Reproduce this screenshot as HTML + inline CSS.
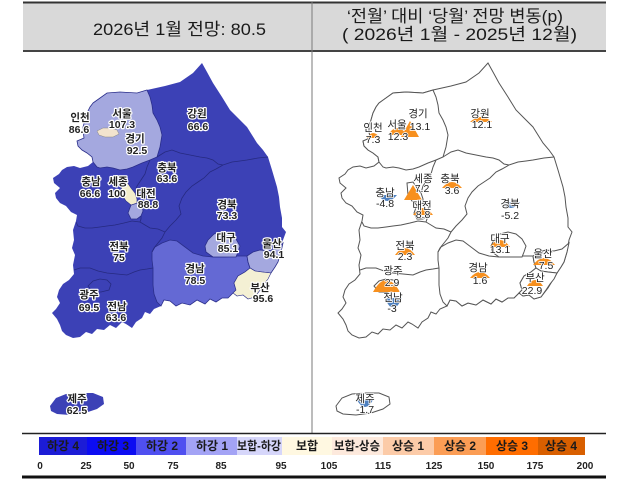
<!DOCTYPE html>
<html><head><meta charset="utf-8"><style>
html,body{margin:0;padding:0;background:#fff;}
svg{display:block;}
.h{font-family:"Liberation Sans","Noto Sans CJK KR",sans-serif;font-size:17px;fill:#1a1a1a;}
.lb{font-family:"Liberation Sans","Noto Sans CJK KR",sans-serif;font-size:10.5px;font-weight:bold;fill:#222;stroke:#fff;stroke-width:2.4px;paint-order:stroke;stroke-linejoin:round;text-anchor:middle;}
.rb{font-family:"Liberation Sans","Noto Sans CJK KR",sans-serif;font-size:10.5px;fill:#222;stroke:#fff;stroke-width:1.6px;paint-order:stroke;text-anchor:middle;}
.lg{font-family:"Liberation Sans","Noto Sans CJK KR",sans-serif;font-size:12px;font-weight:bold;fill:#1a1a1a;text-anchor:middle;}
.tk{font-family:"Liberation Sans",sans-serif;font-size:10px;font-weight:bold;fill:#222;text-anchor:middle;}
</style></head><body>
<svg width="620" height="481" viewBox="0 0 620 481" xmlns="http://www.w3.org/2000/svg">
<defs>
<path id="main" d="M93,103 L107,93 L120,92 L137,93 L147,90 L165,86 L180,82 L193,73 L202,63 L207,72 L213,83 L222,97 L230,110 L240,120 L247,127 L252,135 L257,143 L263,150 L268,157 L272,170 L277,187 L279,197 L280,207 L282,218 L282,227 L286,232 L283,240 L281,252 L278,262 L275,267 L271,273 L265,283 L262,288 L255,297 L248,299 L243,295 L237,296 L233,293 L228,298 L222,298 L216,302 L210,299 L205,304 L197,300 L190,305 L182,303 L176,306 L170,301 L164,300 L161,306 L154,309 L150,314 L145,312 L142,318 L136,322 L132,328 L126,324 L122,322 L116,328 L110,325 L104,330 L97,329 L92,334 L86,332 L80,337 L73,338 L66,335 L62,331 L60,325 L57,319 L52,313 L56,309 L60,303 L57,297 L59,290 L63,284 L69,280 L74,274 L73,265 L75,255 L72,248 L74,240 L73,230 L76,221 L77,215 L71,212 L66,206 L60,203 L56,198 L55,193 L60,188 L54,183 L53,178 L59,174 L62,170 L67,167 L74,166 L80,168 L88,166 L93,162 L92,157 L87,153 L82,150 L78,146 L77,141 L84,138 L83,131 L83,127 L85,120 L87,113 L90,107 Z"/>
<path id="gg" d="M93,103 L107,93 L120,92 L137,93 L147,90 L150,97 L152,105 L153,113 L157,120 L160,127 L162,135 L161,141 L160,147 L157,157 L150,160 L142,163 L133,167 L127,169 L120,170 L113,168 L107,167 L100,168 L97,167 L93,162 L92,157 L87,153 L82,150 L78,146 L77,141 L84,138 L83,131 L83,127 L85,120 L87,113 L90,107 Z"/>
<path id="gn" d="M152,252 L155,247 L162,243 L170,240 L177,241 L185,247 L193,253 L203,256 L213,257 L225,257 L237,256 L247,256 L248,262 L250,268 L245,272 L238,276 L234,283 L236,290 L233,293 L228,298 L222,298 L216,302 L210,299 L205,304 L197,300 L190,305 L182,303 L176,306 L170,301 L164,300 L161,306 L157,302 L154,294 L153,285 L153,275 L153,268 L152,260 Z"/>
<path id="us" d="M247,256 L253,252 L260,250 L268,251 L276,249 L283,243 L281,252 L278,262 L275,267 L271,273 L262,272 L255,271 L250,268 L248,262 Z"/>
<path id="bs" d="M250,268 L255,271 L262,272 L271,273 L268,279 L264,284 L260,290 L255,297 L248,299 L243,295 L237,296 L233,293 L236,290 L234,283 L238,276 L245,272 Z"/>
<path id="dg" d="M208,240 L214,234 L222,232 L230,234 L236,239 L240,246 L238,252 L236,257 L225,257 L213,257 L206,252 L205,246 Z"/>
<path id="sj" d="M121,183 L127,182 L131,188 L135,193 L137,199 L137,203 L131,205 L126,201 L122,195 Z"/>
<path id="dj" d="M131,205 L137,203 L142,205 L143,211 L141,216 L137,219 L131,219 L128,213 Z"/>
<path id="se" d="M97,131 L103,128 L110,128 L117,130 L119,134 L113,137 L105,137 L99,135 Z"/>
<path id="jj" d="M50,406 L56,398 L66,394 L80,393 L93,393 L103,397 L104,404 L97,409 L85,413 L70,415 L57,414 L51,411 Z"/>
<path id="lines" d="M157,157 L165,152 L172,150 L180,153 L190,155 L200,157 L207,158 L213,160 L218,164 L223,165 L232,162 L240,161 L247,160 L258,158 L268,157
 M223,165 L216,169 L210,172 L204,178 L198,182 L192,186 L186,192 L182,198 L179,206 L181,214 L176,220 L170,226 L165,232
 M165,232 L158,229 L150,228 L145,225 L140,222
 M150,160 L147,167 L145,174 L141,180 L137,186 L135,193
 M141,216 L141,219 L140,222
 M140,222 L132,221 L124,223 L115,225 L107,226 L100,227 L92,228 L85,228 L78,226 L76,222
 M165,232 L162,238 L158,243 L154,248 L152,252
 M74,270 L80,268 L90,268 L98,271 L107,273 L117,274 L127,275 L134,272 L140,270 L147,269 L153,268
 M88,286 L93,281 L100,279 L107,280 L111,284 L109,290 L101,292 L93,292 Z"/>
</defs>

<!-- header -->
<rect x="23" y="2" width="583" height="49" fill="#d9d9d9"/>
<line x1="23" y1="2.5" x2="606" y2="2.5" stroke="#333" stroke-width="2"/>
<line x1="23" y1="51" x2="606" y2="51" stroke="#444" stroke-width="2"/>
<line x1="312" y1="2" x2="312" y2="433" stroke="#7a7a7a" stroke-width="1"/>
<text class="h" x="93" y="35" textLength="173" lengthAdjust="spacingAndGlyphs">2026년 1월 전망: 80.5</text>
<text class="h" x="347" y="22" textLength="216" lengthAdjust="spacingAndGlyphs">‘전월’ 대비 ‘당월’ 전망 변동(p)</text>
<text class="h" x="342" y="40" textLength="235" lengthAdjust="spacingAndGlyphs">( 2026년 1월 -  2025년 12월)</text>

<!-- left map -->
<g>
<use href="#main" fill="#3c41b6"/>
<use href="#jj" fill="#3c41b6"/>
<use href="#gg" fill="#a4a8df" stroke="#2a2e8a" stroke-width="0.8"/>
<use href="#gn" fill="#6469d4" stroke="#2a2e8a" stroke-width="0.8"/>
<use href="#us" fill="#a4a8df" stroke="#2a2e8a" stroke-width="0.8"/>
<use href="#bs" fill="#f4f0d4" stroke="#2a2e8a" stroke-width="0.6"/>
<use href="#dg" fill="#a4a8df" stroke="#2a2e8a" stroke-width="0.8"/>
<use href="#dj" fill="#a4a8df" stroke="#2a2e8a" stroke-width="0.8"/>
<use href="#sj" fill="#f3eecb" stroke="#2a2e8a" stroke-width="0.6"/>
<use href="#se" fill="#f2e3ce" stroke="#888" stroke-width="0.5"/>
<use href="#lines" fill="none" stroke="#262a80" stroke-width="0.8"/>
</g>
<g>
<text class="lb" x="80" y="121">인천</text><text class="lb" x="79" y="133">86.6</text>
<text class="lb" x="122" y="117">서울</text><text class="lb" x="122" y="128">107.3</text>
<text class="lb" x="135" y="142">경기</text><text class="lb" x="137" y="154">92.5</text>
<text class="lb" x="197" y="117">강원</text><text class="lb" x="198" y="130">66.6</text>
<text class="lb" x="167" y="171">충북</text><text class="lb" x="167" y="182">63.6</text>
<text class="lb" x="91" y="185">충남</text><text class="lb" x="90" y="197">66.6</text>
<text class="lb" x="118" y="185">세종</text><text class="lb" x="117" y="197">100</text>
<text class="lb" x="146" y="197">대전</text><text class="lb" x="148" y="208">88.8</text>
<text class="lb" x="227" y="208">경북</text><text class="lb" x="227" y="219">73.3</text>
<text class="lb" x="226" y="241">대구</text><text class="lb" x="228" y="252">85.1</text>
<text class="lb" x="272" y="247">울산</text><text class="lb" x="274" y="258">94.1</text>
<text class="lb" x="119" y="250">전북</text><text class="lb" x="119" y="261">75</text>
<text class="lb" x="195" y="272">경남</text><text class="lb" x="195" y="284">78.5</text>
<text class="lb" x="260" y="291">부산</text><text class="lb" x="263" y="302">95.6</text>
<text class="lb" x="89" y="298">광주</text><text class="lb" x="89" y="311">69.5</text>
<text class="lb" x="117" y="310">전남</text><text class="lb" x="116" y="321">63.6</text>
<text class="lb" x="77" y="402">제주</text><text class="lb" x="77" y="414">62.5</text>
</g>

<!-- right map -->
<g transform="translate(286,0)" fill="#fff" stroke="#555" stroke-width="1">
<use href="#main"/>
<use href="#jj"/>
<use href="#gg"/>
<use href="#gn"/>
<use href="#us"/>
<use href="#bs"/>
<use href="#dg"/>
<use href="#dj"/>
<use href="#sj"/>
<use href="#lines" fill="none"/>
</g>
<g fill="#f7901e">
<path d="M367,138 Q373,128 380,138 Z"/>
<path d="M388,135 Q397,121 407,135 Z"/>
<path d="M410,121 L401,137 L419,137 Z"/>
<path d="M470,122 Q481,112 492,122 Z"/>
<path d="M413,185 L404,200 L422,200 Z"/>
<path d="M442,188 Q452,176 462,188 Z"/>
<path d="M413,215 Q423,201 433,215 Z"/>
<path d="M490,247 Q500,233 510,247 Z"/>
<path d="M395,255 Q405,241 415,255 Z"/>
<path d="M373,292 Q386,268 400,292 Z"/>
<path d="M533,265 Q544,251 555,265 Z"/>
<path d="M470,278 Q480,266 490,278 Z"/>
<path d="M527,286 Q535,274 543,286 Z"/>
</g>
<g fill="#4f81c0">
<path d="M378,195 Q387,207 397,195 Z"/>
<path d="M502,202 Q511,214 520,202 Z"/>
<path d="M385,298 Q393,318 402,298 Z"/>
<path d="M357,400 Q365,414 373,400 Z"/>
</g>
<g>
<text class="rb" x="373" y="131">인천</text><text class="rb" x="373" y="143">7.3</text>
<text class="rb" x="397" y="128">서울</text><text class="rb" x="398" y="140">12.3</text>
<text class="rb" x="418" y="117">경기</text><text class="rb" x="420" y="130">13.1</text>
<text class="rb" x="480" y="117">강원</text><text class="rb" x="482" y="128">12.1</text>
<text class="rb" x="423" y="182">세종</text><text class="rb" x="422" y="192">7.2</text>
<text class="rb" x="450" y="182">충북</text><text class="rb" x="452" y="194">3.6</text>
<text class="rb" x="385" y="196">충남</text><text class="rb" x="385" y="207">-4.8</text>
<text class="rb" x="422" y="209">대전</text><text class="rb" x="423" y="218">8.8</text>
<text class="rb" x="510" y="207">경북</text><text class="rb" x="510" y="219">-5.2</text>
<text class="rb" x="500" y="242">대구</text><text class="rb" x="500" y="253">13.1</text>
<text class="rb" x="405" y="249">전북</text><text class="rb" x="405" y="260">2.3</text>
<text class="rb" x="543" y="257">울산</text><text class="rb" x="546" y="269">7.5</text>
<text class="rb" x="393" y="274">광주</text><text class="rb" x="392" y="286">2.9</text>
<text class="rb" x="478" y="271">경남</text><text class="rb" x="480" y="284">1.6</text>
<text class="rb" x="535" y="281">부산</text><text class="rb" x="532" y="294">22.9</text>
<text class="rb" x="393" y="301">전남</text><text class="rb" x="392" y="312">-3</text>
<text class="rb" x="365" y="402">제주</text><text class="rb" x="365" y="413">-1.7</text>
</g>

<!-- legend -->
<line x1="22" y1="433.5" x2="606" y2="433.5" stroke="#222" stroke-width="1.5"/>
<rect x="39" y="437" width="48" height="18" fill="#1c1cd6"/>
<rect x="87" y="437" width="49" height="18" fill="#0c0cf2"/>
<rect x="136" y="437" width="50" height="18" fill="#4f4ff0"/>
<rect x="186" y="437" width="51" height="18" fill="#a3a3f5"/>
<rect x="237" y="437" width="45" height="18" fill="#d6d6fa"/>
<rect x="282" y="437" width="50" height="18" fill="#fff8e1"/>
<rect x="332" y="437" width="51" height="18" fill="#fde9dc"/>
<rect x="383" y="437" width="51" height="18" fill="#fccba8"/>
<rect x="434" y="437" width="52" height="18" fill="#fb9d55"/>
<rect x="486" y="437" width="52" height="18" fill="#ff6d00"/>
<rect x="538" y="437" width="47" height="18" fill="#d85f00"/>
<text class="lg" x="63" y="450">하강 4</text>
<text class="lg" x="113" y="450">하강 3</text>
<text class="lg" x="162" y="450">하강 2</text>
<text class="lg" x="212" y="450">하강 1</text>
<text class="lg" x="259" y="450" textLength="44" lengthAdjust="spacingAndGlyphs">보합-하강</text>
<text class="lg" x="307" y="450">보합</text>
<text class="lg" x="357" y="450" textLength="46" lengthAdjust="spacingAndGlyphs">보합-상승</text>
<text class="lg" x="408" y="450">상승 1</text>
<text class="lg" x="460" y="450">상승 2</text>
<text class="lg" x="512" y="450">상승 3</text>
<text class="lg" x="561" y="450">상승 4</text>
<text class="tk" x="40" y="469">0</text>
<text class="tk" x="86" y="469">25</text>
<text class="tk" x="129" y="469">50</text>
<text class="tk" x="173" y="469">75</text>
<text class="tk" x="221" y="469">85</text>
<text class="tk" x="281" y="469">95</text>
<text class="tk" x="329" y="469">105</text>
<text class="tk" x="383" y="469">115</text>
<text class="tk" x="434" y="469">125</text>
<text class="tk" x="486" y="469">150</text>
<text class="tk" x="535" y="469">175</text>
<text class="tk" x="585" y="469">200</text>
<line x1="22" y1="477" x2="606" y2="477" stroke="#111" stroke-width="3"/>
</svg>
</body></html>
